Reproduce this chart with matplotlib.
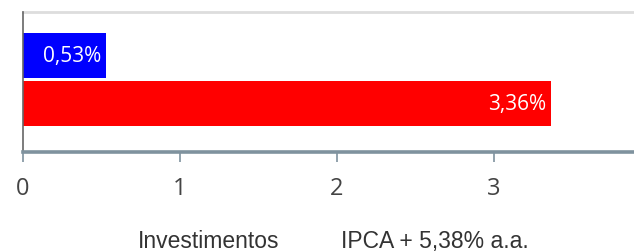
import matplotlib
matplotlib.use("Agg")
import matplotlib.pyplot as plt
from matplotlib.patches import Rectangle

series_names = ["Investimentos", "IPCA + 5,38% a.a."]
values = [0.53, 3.36]
labels = ["0,53%", "3,36%"]
colors = ["#0000ff", "#ff0000"]
xticks = [0, 1, 2, 3]

fig = plt.figure(figsize=(6.34, 2.53), dpi=100)
ax = fig.add_axes([23/634, 1-152.5/253, 1-23/634, (152.5-13)/253])

ypos = [0, 1]
bars = ax.barh(ypos, values, height=0.92, color=colors, zorder=2)
for b, lab in zip(bars, labels):
    ax.text(b.get_width() - 0.03, b.get_y() + b.get_height()/2, lab,
            ha="right", va="center", color="white", fontsize=15,
            family="Open Sans", zorder=3)

ax.set_xlim(0, (634-23)/157)
ax.set_ylim(1.979, -0.887)
ax.set_yticks([])
ax.set_xticks(xticks)
ax.set_xticklabels([str(t) for t in xticks], family="Open Sans", fontsize=17, color="#444444")
ax.tick_params(axis="x", direction="out", length=7.5, width=1.2, color="#7f929e", pad=10)

for s in ["top", "right"]:
    ax.spines[s].set_visible(False)
ax.spines["left"].set_color("#666666")
ax.spines["left"].set_linewidth(1.2)
ax.spines["bottom"].set_color("#7f929e")
ax.spines["bottom"].set_linewidth(2.6)
ax.axhline(-0.887, color="#dddddd", lw=2, zorder=1, clip_on=False)

handles = [Rectangle((0, 0), 0, 0, visible=False) for _ in series_names]
leg = fig.legend(handles, series_names, loc="center", bbox_to_anchor=(333/634, 1-242/253),
                 ncol=2, frameon=False, handlelength=0, handletextpad=0, columnspacing=2.7,
                 prop={"family": "Liberation Sans", "size": 16.5})
for t in leg.get_texts():
    t.set_color("#333333")

fig.savefig("out.png", dpi=100)
